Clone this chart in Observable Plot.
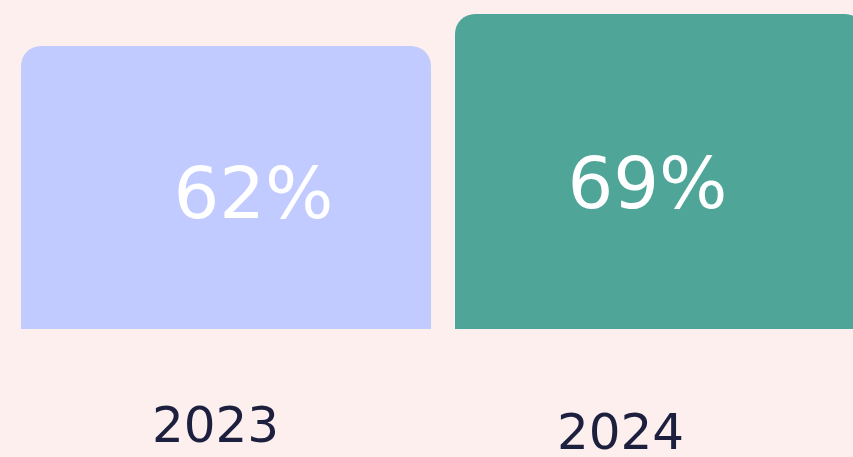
<!DOCTYPE html>
<html>
<head>
<meta charset="utf-8">
<script src="https://cdn.jsdelivr.net/npm/d3@7"></script>
<script src="https://cdn.jsdelivr.net/npm/@observablehq/plot@0.6"></script>
<style>
  html, body { margin: 0; padding: 0; background: #fcefed; overflow: hidden; }
  #chart svg { display: block; overflow: hidden; }
</style>
</head>
<body>
<div id="chart"></div>
<script>
const years = ["2023", "2024"];
const values = [62, 69];
const labels = ["62%", "69%"];
const colors = ["#c1cbff", "#4fa598"];

const data = years.map((year, i) => ({year, value: values[i], label: labels[i], color: colors[i]}));
const d2023 = data.filter(d => d.year === "2023");
const d2024 = data.filter(d => d.year === "2024");

const font = "'DejaVu Sans', sans-serif";
const ink = "#1c1f3e";

const chart = Plot.plot({
  width: 853,
  height: 457,
  marginTop: 0, marginBottom: 0, marginLeft: 0, marginRight: 0,
  style: {background: "#fcefed", fontFamily: font, overflow: "hidden"},
  x: {domain: years, range: [20, 866], paddingInner: 0.055, paddingOuter: 0, axis: null},
  y: {domain: [0, 69], range: [329, 14], axis: null},
  marks: [
    Plot.barY(data, {x: "year", y: "value", fill: "color", rx: 20}),
    Plot.barY(data, {x: "year", y: d => d.value / 2, fill: "color"}),
    Plot.text(d2023, {x: "year", y: "value", text: "label", fill: "white", fontSize: 72, dx: 27, dy: 148}),
    Plot.text(d2024, {x: "year", y: "value", text: "label", fill: "white", fontSize: 72, dx: -13, dy: 170}),
    Plot.text(d2023, {x: "year", text: "year", frameAnchor: "bottom", fill: ink, fontSize: 50, dx: -11, dy: -16}),
    Plot.text(d2024, {x: "year", text: "year", frameAnchor: "bottom", fill: ink, fontSize: 50, dx: -40, dy: -9})
  ]
});
document.getElementById("chart").append(chart);
</script>
</body>
</html>
